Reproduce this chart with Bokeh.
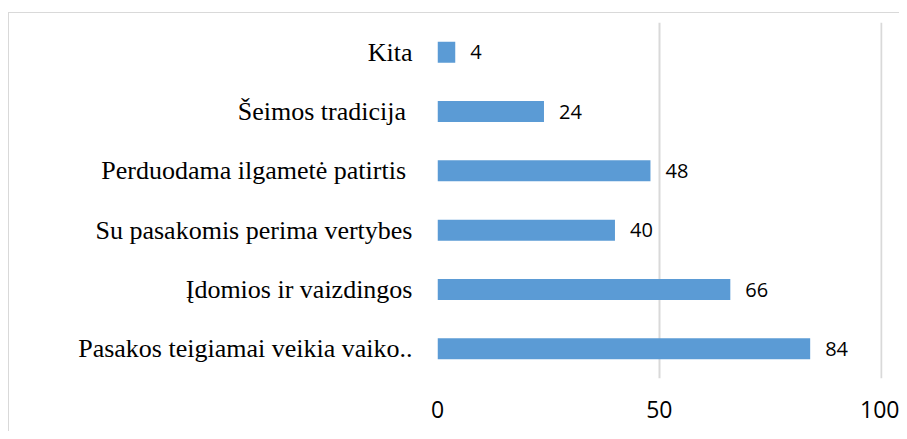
from bokeh.plotting import figure
from bokeh.models import ColumnDataSource, FactorRange, Range1d, FixedTicker
from bokeh.core.properties import value
from bokeh.embed import file_html
from bokeh.resources import INLINE

categories = [
    "Pasakos teigiamai veikia vaiko..",
    "Įdomios ir vaizdingos",
    "Su pasakomis perima vertybes",
    "Perduodama ilgametė patirtis\u00a0",
    "Šeimos tradicija\u00a0",
    "Kita",
]
values = [84, 66, 40, 48, 24, 4]
labels = [str(v) for v in values]
x_ticks = [0, 50, 100]

source = ColumnDataSource(data=dict(cat=categories, val=values, lab=labels))

p = figure(
    width=890, height=418,
    y_range=FactorRange(factors=categories),
    x_range=Range1d(0, 100.3),
    output_backend="svg", toolbar_location=None,
    min_border_left=428, min_border_right=17, min_border_top=9, min_border_bottom=53,
)
p.frame_width = 445
p.frame_height = 356
p.styles = {"margin-top": "12px", "margin-left": "8px",
            "border-top": "1px solid #d9d9d9", "border-left": "1px solid #d9d9d9"}

p.hbar(y="cat", right="val", left=0, height=0.355, source=source,
       fill_color="#5B9BD5", line_color=None)

p.text(x="val", y="cat", text="lab", source=source, x_offset=15,
       text_align="left", text_baseline="middle",
       text_font=value("Open Sans"), text_font_size="20px", text_color="#000000")

p.outline_line_color = None
p.background_fill_color = "white"
p.border_fill_color = "white"

p.xgrid.grid_line_color = "#d9d9d9"
p.xgrid.grid_line_width = 2
p.xgrid.ticker = FixedTicker(ticks=x_ticks)
p.ygrid.grid_line_color = None

p.xaxis.ticker = FixedTicker(ticks=x_ticks)
p.xaxis.axis_line_color = None
p.xaxis.major_tick_line_color = None
p.xaxis.minor_tick_line_color = None
p.xaxis.major_label_text_font = "Open Sans"
p.xaxis.major_label_text_font_size = "23px"
p.xaxis.major_label_text_color = "#000000"
p.xaxis.major_label_standoff = 16

p.yaxis.axis_line_color = None
p.yaxis.major_tick_line_color = None
p.yaxis.minor_tick_line_color = None
p.yaxis.major_label_text_font = "Liberation Serif"
p.yaxis.major_label_text_font_size = "26px"
p.yaxis.major_label_text_color = "#000000"
p.yaxis.major_label_standoff = 19

open("out.html", "w").write(file_html(p, INLINE))
